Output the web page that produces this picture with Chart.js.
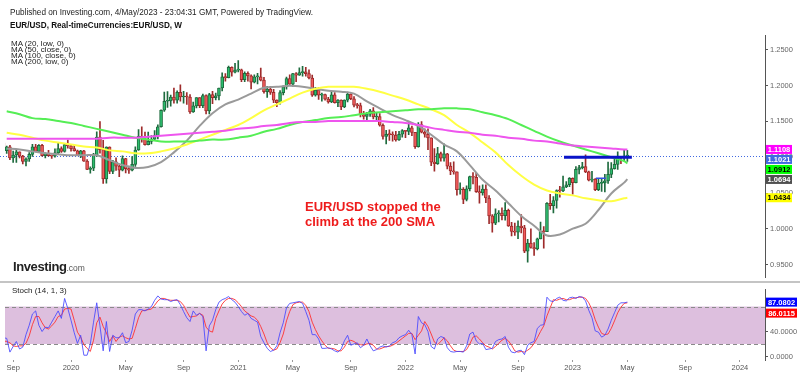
<!DOCTYPE html>
<html>
<head>
<meta charset="utf-8">
<title>EUR/USD weekly</title>
<script src="https://cdn.jsdelivr.net/npm/chart.js@4.4.1/dist/chart.umd.min.js"></script>
<style>
  body { margin: 0; background: #fff; font-family: "Liberation Sans", Arial, sans-serif; }
  #wrap { position: relative; width: 800px; height: 376px; overflow: hidden; }
  #mainBox { position: absolute; left: 0; top: 0; width: 800px; height: 284px; }
  #stochBox { position: absolute; left: 0; top: 283px; width: 800px; height: 93px; }
  .t { position: absolute; white-space: nowrap; line-height: 1; transform-origin: 0 50%; z-index: 2; }
  #pub { left: 10px; top: 7.5px; font-size: 9px; color: #222; transform: scaleX(0.91); }
  #sym { left: 10px; top: 21px; font-size: 9px; font-weight: bold; color: #111; transform: scaleX(0.905); }
  .ma { left: 11px; font-size: 6.8px; color: #222; transform: scaleX(1.18); }
  #note { left: 305px; top: 199px; font-size: 13px; font-weight: bold; color: #ee1c1c; line-height: 15px; }
  #logo { left: 13px; top: 259.5px; font-size: 13px; font-weight: bold; color: #222; letter-spacing: -0.4px; }
  #logo span { font-size: 8.5px; font-weight: normal; color: #555; letter-spacing: 0; }
  #stochTitle { left: 12px; top: 286.7px; font-size: 8px; color: #222; }
</style>
</head>
<body>
<div id="wrap">
  <div id="mainBox"><canvas id="mainChart"></canvas></div>
  <div id="stochBox"><canvas id="stochChart"></canvas></div>
  <div class="t" id="pub">Published on Investing.com, 4/May/2023 - 23:04:31 GMT, Powered by TradingView.</div>
  <div class="t" id="sym">EUR/USD, Real-timeCurrencies:EUR/USD, W</div>
  <div class="t ma" style="top:41px">MA (20, low, 0)</div>
  <div class="t ma" style="top:47px">MA (50, close, 0)</div>
  <div class="t ma" style="top:53px">MA (100, close, 0)</div>
  <div class="t ma" style="top:59px">MA (200, low, 0)</div>
  <div class="t" id="note">EUR/USD stopped the<br>climb at the 200 SMA</div>
  <div class="t" id="logo">Investing<span>.com</span></div>
  <div class="t" id="stochTitle">Stoch (14, 1, 3)</div>
</div>
<script>
// weekly candles, index 0 = week of 12 Aug 2019, last = week of 1 May 2023
var opens = [
  1.1200,1.1090,1.1145,1.0990,1.1030,1.1075,1.1015,1.0940,1.0975,1.1040,
  1.1145,1.1080,1.1165,1.1020,1.1050,1.1020,1.1015,1.1060,1.1120,1.1080,
  1.1175,1.1160,1.1120,1.1090,1.1025,1.1090,1.0945,1.0830,1.0845,1.1025,
  1.1280,1.1105,1.0695,1.1140,1.0800,1.0935,1.0875,1.0820,1.0980,1.0840,
  1.0820,1.0900,1.1100,1.1290,1.1255,1.1175,1.1220,1.1250,1.1300,1.1425,
  1.1655,1.1780,1.1785,1.1840,1.1795,1.1905,1.1840,1.1845,1.1840,1.1630,
  1.1715,1.1830,1.1720,1.1860,1.1645,1.1875,1.1830,1.1855,1.1965,1.2120,
  1.2110,1.2255,1.2185,1.2215,1.2220,1.2080,1.2170,1.2135,1.2045,1.2120,
  1.2120,1.2075,1.1915,1.1950,1.1905,1.1795,1.1760,1.1900,1.1980,1.2095,
  1.2020,1.2165,1.2145,1.2180,1.2190,1.2165,1.2105,1.1865,1.1935,1.1865,
  1.1875,1.1810,1.1770,1.1870,1.1760,1.1795,1.1700,1.1795,1.1880,1.1815,
  1.1725,1.1720,1.1595,1.1570,1.1600,1.1645,1.1560,1.1565,1.1445,1.1290,
  1.1320,1.1315,1.1310,1.1240,1.1320,1.1370,1.1360,1.1410,1.1345,1.1145,
  1.1455,1.1350,1.1320,1.1270,1.0930,1.0910,1.1050,1.0985,1.1045,1.0875,
  1.0810,1.0795,1.0545,1.0550,1.0410,1.0560,1.0730,1.0720,1.0520,1.0500,
  1.0555,1.0430,1.0180,1.0080,1.0210,1.0220,1.0185,1.0260,1.0040,0.9965,
  0.9955,1.0040,1.0015,0.9690,0.9800,0.9740,0.9720,0.9860,0.9965,0.9960,
  1.0355,1.0325,1.0395,1.0535,1.0530,1.0585,1.0615,1.0705,1.0645,1.0830,
  1.0855,1.0870,1.0795,1.0680,1.0695,1.0545,1.0635,1.0640,1.0670,1.0760,
  1.0840,1.0900,1.0990,1.0988,1.1015
];
var highs = [
  1.1230,1.1155,1.1165,1.1085,1.1110,1.1075,1.1025,1.0990,1.1065,1.1180,
  1.1180,1.1175,1.1180,1.1060,1.1097,1.1030,1.1115,1.1200,1.1145,1.1185,
  1.1240,1.1175,1.1175,1.1100,1.1095,1.1095,1.0965,1.0865,1.1055,1.1355,
  1.1495,1.1235,1.1145,1.1145,1.0955,1.0990,1.0890,1.1020,1.0985,1.0875,
  1.1010,1.1145,1.1385,1.1422,1.1350,1.1350,1.1303,1.1370,1.1450,1.1660,
  1.1908,1.1915,1.1865,1.1965,1.1925,1.2011,1.1917,1.1900,1.1872,1.1770,
  1.1830,1.1830,1.1880,1.1870,1.1890,1.1920,1.1895,1.1965,1.2177,1.2165,
  1.2272,1.2260,1.2310,1.2349,1.2230,1.2190,1.2190,1.2150,1.2150,1.2170,
  1.2243,1.2115,1.1990,1.1990,1.1945,1.1800,1.1928,1.1995,1.2117,1.2150,
  1.2170,1.2182,1.2245,1.2266,1.2255,1.2218,1.2145,1.1975,1.1975,1.1895,
  1.1880,1.1835,1.1908,1.1900,1.1805,1.1800,1.1800,1.1909,1.1885,1.1845,
  1.1751,1.1755,1.1640,1.1624,1.1669,1.1692,1.1616,1.1610,1.1465,1.1375,
  1.1383,1.1355,1.1360,1.1360,1.1386,1.1370,1.1482,1.1435,1.1345,1.1483,
  1.1495,1.1395,1.1395,1.1270,1.1121,1.1137,1.1070,1.1185,1.1055,1.0925,
  1.0936,1.0795,1.0642,1.0575,1.0600,1.0736,1.0786,1.0774,1.0601,1.0613,
  1.0615,1.0463,1.0200,1.0279,1.0254,1.0293,1.0368,1.0275,1.0090,1.0079,
  1.0113,1.0198,1.0050,0.9853,0.9999,0.9810,0.9873,1.0093,1.0030,1.0365,
  1.0481,1.0449,1.0545,1.0595,1.0737,1.0660,1.0714,1.0713,1.0868,1.0887,
  1.0929,1.1033,1.0806,1.0804,1.0700,1.0692,1.0700,1.0760,1.0930,1.0926,
  1.0973,1.1075,1.1000,1.1095,1.1095
];
var lows = [
  1.1065,1.1052,1.0964,1.0926,1.0927,1.0990,1.0905,1.0879,1.0940,1.1010,
  1.1075,1.1070,1.1015,1.0990,1.1015,1.0981,1.1000,1.1040,1.1065,1.1070,
  1.1125,1.1085,1.1085,1.1020,1.0992,1.0940,1.0827,1.0778,1.0812,1.1010,
  1.1055,1.0635,1.0636,1.0770,1.0770,1.0815,1.0727,1.0810,1.0782,1.0775,
  1.0810,1.0870,1.1095,1.1210,1.1168,1.1170,1.1185,1.1245,1.1255,1.1420,
  1.1640,1.1695,1.1710,1.1755,1.1753,1.1780,1.1752,1.1737,1.1612,1.1625,
  1.1688,1.1690,1.1690,1.1602,1.1603,1.1745,1.1800,1.1800,1.1925,1.2060,
  1.2105,1.2130,1.2175,1.2190,1.2055,1.2055,1.2060,1.1952,1.2035,1.2023,
  1.2065,1.1893,1.1835,1.1875,1.1762,1.1704,1.1740,1.1870,1.1950,1.2015,
  1.1986,1.2052,1.2140,1.2130,1.2130,1.2093,1.1846,1.1850,1.1807,1.1781,
  1.1795,1.1752,1.1760,1.1755,1.1705,1.1664,1.1690,1.1770,1.1801,1.1701,
  1.1685,1.1563,1.1529,1.1524,1.1570,1.1535,1.1513,1.1433,1.1250,1.1186,
  1.1235,1.1225,1.1222,1.1235,1.1280,1.1272,1.1314,1.1300,1.1121,1.1140,
  1.1340,1.1280,1.1106,1.0880,1.0806,1.0900,1.0945,1.0945,1.0837,1.0757,
  1.0764,1.0471,1.0483,1.0350,1.0390,1.0530,1.0627,1.0507,1.0359,1.0469,
  1.0365,1.0072,0.9952,1.0060,1.0096,1.0123,1.0120,1.0033,0.9900,0.9910,
  0.9864,0.9944,0.9668,0.9536,0.9730,0.9631,0.9705,0.9860,0.9730,0.9960,
  1.0270,1.0222,1.0290,1.0443,1.0520,1.0575,1.0590,1.0483,1.0640,1.0766,
  1.0835,1.0785,1.0669,1.0655,1.0533,1.0532,1.0524,1.0516,1.0635,1.0713,
  1.0832,1.0830,1.0910,1.0944,1.0942
];
var closes = [
  1.1090,1.1145,1.0990,1.1030,1.1075,1.1015,1.0940,1.0975,1.1040,1.1145,
  1.1080,1.1165,1.1020,1.1050,1.1020,1.1015,1.1060,1.1120,1.1080,1.1175,
  1.1160,1.1120,1.1090,1.1025,1.1090,1.0945,1.0830,1.0845,1.1025,1.1280,
  1.1105,1.0695,1.1140,1.0800,1.0935,1.0875,1.0820,1.0980,1.0840,1.0820,
  1.0900,1.1100,1.1290,1.1255,1.1175,1.1220,1.1250,1.1300,1.1425,1.1655,
  1.1780,1.1785,1.1840,1.1795,1.1905,1.1840,1.1845,1.1840,1.1630,1.1715,
  1.1830,1.1720,1.1860,1.1645,1.1875,1.1830,1.1855,1.1965,1.2120,1.2110,
  1.2255,1.2185,1.2215,1.2220,1.2080,1.2170,1.2135,1.2045,1.2120,1.2120,
  1.2075,1.1915,1.1950,1.1905,1.1795,1.1760,1.1900,1.1980,1.2095,1.2020,
  1.2165,1.2145,1.2180,1.2190,1.2165,1.2105,1.1865,1.1935,1.1865,1.1875,
  1.1810,1.1770,1.1870,1.1760,1.1795,1.1700,1.1795,1.1880,1.1815,1.1725,
  1.1720,1.1595,1.1570,1.1600,1.1645,1.1560,1.1565,1.1445,1.1290,1.1320,
  1.1315,1.1310,1.1240,1.1320,1.1370,1.1360,1.1410,1.1345,1.1145,1.1455,
  1.1350,1.1320,1.1270,1.0930,1.0910,1.1050,1.0985,1.1045,1.0875,1.0810,
  1.0795,1.0545,1.0550,1.0410,1.0560,1.0730,1.0720,1.0520,1.0500,1.0555,
  1.0430,1.0180,1.0080,1.0210,1.0220,1.0185,1.0260,1.0040,0.9965,0.9955,
  1.0040,1.0015,0.9690,0.9800,0.9740,0.9720,0.9860,0.9965,0.9960,1.0355,
  1.0325,1.0395,1.0535,1.0530,1.0585,1.0615,1.0705,1.0645,1.0830,1.0855,
  1.0870,1.0795,1.0680,1.0695,1.0545,1.0635,1.0640,1.0670,1.0760,1.0840,
  1.0900,1.0990,1.0988,1.1015,1.1021
];

// moving averages, one point every 4 weeks
var maWeeks = [1,5,9,13,17,21,25,29,33,37,41,45,49,53,57,61,65,69,73,77,81,85,89,93,97,
  101,105,109,113,117,121,125,129,133,137,141,145,149,153,157,161,165,169,173,177,181,185,189,193,194];
var ma20Low = [
  1.1122,1.1108,1.1081,1.1054,1.1040,1.1027,1.1027,1.1027,1.0958,1.0890,
  1.0849,1.0863,1.0931,1.1067,1.1231,1.1436,1.1613,1.1736,1.1804,1.1886,
  1.1968,1.1982,1.1995,1.1982,1.1954,1.1927,1.1913,1.1886,1.1777,1.1681,
  1.1586,1.1518,1.1436,1.1313,1.1177,1.1081,1.0890,1.0685,1.0535,1.0358,
  1.0181,1.0044,0.9908,0.9921,1.0003,1.0072,1.0263,1.0494,1.0645,1.0694
];
var ma50Close = [
  1.1340,1.1313,1.1272,1.1231,1.1204,1.1177,1.1149,1.1136,1.1095,1.1081,
  1.1054,1.1054,1.1081,1.1122,1.1177,1.1245,1.1313,1.1381,1.1449,1.1545,
  1.1654,1.1736,1.1818,1.1900,1.1954,1.1982,1.1982,1.1982,1.1954,1.1913,
  1.1859,1.1804,1.1736,1.1668,1.1586,1.1449,1.1340,1.1204,1.1067,1.0890,
  1.0740,1.0617,1.0535,1.0494,1.0467,1.0426,1.0399,1.0385,1.0426,1.0434
];
var ma100Close = [
  1.1640,1.1600,1.1545,1.1531,1.1504,1.1477,1.1436,1.1395,1.1354,1.1313,
  1.1272,1.1245,1.1218,1.1218,1.1218,1.1231,1.1245,1.1245,1.1272,1.1299,
  1.1354,1.1395,1.1449,1.1490,1.1518,1.1545,1.1559,1.1586,1.1613,1.1627,
  1.1640,1.1654,1.1668,1.1668,1.1681,1.1681,1.1668,1.1627,1.1586,1.1531,
  1.1449,1.1368,1.1286,1.1218,1.1163,1.1108,1.1054,1.0999,1.0945,1.0912
];
var ma200Low = [
  1.1258,1.1258,1.1258,1.1258,1.1258,1.1258,1.1258,1.1258,1.1272,1.1272,
  1.1272,1.1286,1.1299,1.1313,1.1327,1.1340,1.1354,1.1368,1.1395,1.1409,
  1.1436,1.1449,1.1477,1.1490,1.1490,1.1504,1.1504,1.1504,1.1504,1.1504,
  1.1490,1.1477,1.1449,1.1409,1.1381,1.1354,1.1340,1.1313,1.1299,1.1272,
  1.1258,1.1231,1.1218,1.1190,1.1163,1.1149,1.1136,1.1122,1.1108,1.1108
];

// stochastic (14, 1, 3): %K and %D, one value per week
var stochK = [
  30,29,7,16,24,12,15,35,50,68, 73,50,40,47,46,55,64,73,61,93,
  77,58,38,21,34,2,2,20,55,86, 49,9,56,8,34,30,30,38,22,24,
  42,68,75,75,73,76,80,90,97,92, 91,91,88,90,91,83,72,62,56,73,
  66,69,64,9,49,58,75,87,91,93, 96,91,87,80,72,66,69,61,58,55,
  32,22,13,8,10,17,38,54,78,85, 86,87,88,85,72,58,35,35,28,13,
  13,14,12,9,7,12,25,34,18,20, 22,14,18,28,17,9,11,15,17,15,
  17,22,24,30,33,35,42,35,4,64, 54,51,40,16,12,28,32,30,14,8,
  7,8,8,7,17,36,39,25,20,21, 11,12,13,24,27,28,32,15,7,6,
  9,10,3,18,22,24,45,50,51,95, 89,88,93,95,90,89,94,95,93,96,
  95,89,74,62,41,39,31,34,44,58, 70,82,86,86,87.0802
];
var stochD = [
  25,24,22,17,16,17,17,21,33,51, 64,64,54,46,44,49,55,64,66,76,
  77,76,58,39,31,19,13,8,26,54, 63,48,38,24,33,24,31,33,30,28,
  29,45,62,73,74,75,76,82,89,93, 93,91,90,90,90,88,82,72,63,64,
  65,69,66,47,41,39,61,73,84,90, 93,93,91,86,80,73,69,65,63,58,
  48,36,22,14,10,12,22,36,57,72, 83,86,87,87,82,72,55,43,33,25,
  18,13,13,12,9,9,15,24,26,24, 20,19,18,20,21,18,12,12,14,16,
  16,18,21,25,29,33,37,37,27,34, 41,56,48,36,23,19,24,30,25,17,
  10,8,8,8,11,20,31,33,28,22, 17,15,12,16,21,26,29,25,18,9,
  7,8,7,10,14,21,30,40,49,65, 78,91,90,92,93,91,91,93,94,95,
  95,93,86,75,59,47,37,35,36,45, 57,70,79,85,86.0115
];
var stochBands = [20, 80];
var stochTicks = [0, 40];

// hand-drawn horizontal lines: start week, end week, price
var drawnFrom = [174.3, 184.2];
var drawnTo = [195.4, 187.3];
var drawnLevel = [1.1000, 1.0705];

// axis ticks
var priceTicks = [0.95, 1.00, 1.05, 1.10, 1.15, 1.20, 1.25];
var weekTicks = [3, 21, 38, 56, 73, 90, 108, 125, 142, 160, 177, 194, 212, 229];
var weekTickLabels = ["Sep", "2020", "May", "Sep", "2021", "May", "Sep", "2022", "May", "Sep", "2023", "May", "Sep", "2024"];

var xMin = 0.47, xMax = 236.8;
var priceMin = 0.93213, priceMax = 1.27046;
var stochMin = -5.65, stochMax = 107.3;

var upFill = "#2dbd6e", upEdge = "#1e6b3e";
var downFill = "#f25c5c", downEdge = "#9e2b2b";
var FONT = '"Liberation Sans", Arial, sans-serif';

Chart.defaults.font.family = FONT;

function isUp(i) { return closes[i] >= opens[i]; }

function maPoints(arr) {
    return maWeeks.map(function (w, i) { return { x: w, y: arr[i] }; });
}

// Tag boxes at the right edge, pushed down so they don't overlap
function drawTags(ctx, scale, left, tags, width, gap) {
    tags.sort(function (a, b) { return b.v - a.v; });
    var prev = -Infinity;
    ctx.font = "bold 7.5px " + FONT;
    ctx.textAlign = "center";
    ctx.textBaseline = "middle";
    tags.forEach(function (t) {
        var y = Math.max(scale.getPixelForValue(t.v), prev + gap);
        prev = y;
        ctx.fillStyle = t.bg;
        ctx.fillRect(left + 1, y - 4.5, width, 9);
        ctx.fillStyle = t.fg;
        ctx.fillText(t.v.toFixed(4), left + 1 + width / 2, y + 0.5);
    });
}

var mainDecor = {
    id: "mainDecor",
    beforeDatasetsDraw: function (chart) {
        var ctx = chart.ctx, area = chart.chartArea;
        var y = Math.round(chart.scales.y.getPixelForValue(closes[closes.length - 1])) + 0.5;
        ctx.save();
        ctx.strokeStyle = "#4169e1";
        ctx.lineWidth = 1;
        ctx.setLineDash([1, 2]);
        ctx.beginPath();
        ctx.moveTo(0, y);
        ctx.lineTo(area.right, y);
        ctx.stroke();
        ctx.restore();
    },
    afterDraw: function (chart) {
        var ctx = chart.ctx, area = chart.chartArea;
        ctx.save();
        ctx.fillStyle = "#c4c4c4";
        ctx.fillRect(0, 281, 800, 2);
        drawTags(ctx, chart.scales.y, area.right, [
            { v: ma200Low[ma200Low.length - 1], bg: "#ff00ff", fg: "#fff" },
            { v: closes[closes.length - 1], bg: "#4169e1", fg: "#fff" },
            { v: ma100Close[ma100Close.length - 1], bg: "#00ff00", fg: "#000" },
            { v: ma20Low[ma20Low.length - 1], bg: "#505050", fg: "#fff" },
            { v: ma50Close[ma50Close.length - 1], bg: "#ffff00", fg: "#000" }
        ], 26, 10);
        ctx.restore();
    }
};

var stochDecor = {
    id: "stochDecor",
    beforeDatasetsDraw: function (chart) {
        var ctx = chart.ctx, a = chart.chartArea, y = chart.scales.y;
        var top = y.getPixelForValue(stochBands[1]), bot = y.getPixelForValue(stochBands[0]);
        ctx.save();
        ctx.fillStyle = "rgb(221,191,222)";
        ctx.fillRect(a.left, top, a.right - a.left, bot - top);
        ctx.strokeStyle = "#8a8a8a";
        ctx.lineWidth = 1;
        ctx.setLineDash([4, 3]);
        [top, bot].forEach(function (py) {
            ctx.beginPath();
            ctx.moveTo(a.left, Math.round(py) + 0.5);
            ctx.lineTo(a.right, Math.round(py) + 0.5);
            ctx.stroke();
        });
        ctx.restore();
    },
    afterDraw: function (chart) {
        var ctx = chart.ctx;
        ctx.save();
        drawTags(ctx, chart.scales.y, chart.chartArea.right, [
            { v: stochK[stochK.length - 1], bg: "#0000ff", fg: "#fff" },
            { v: stochD[stochD.length - 1], bg: "#ff0000", fg: "#fff" }
        ], 31, 11);
        ctx.restore();
    }
};

// Build datasets
var wickData = lows.map(function (l, i) { return { x: i, y: [l, highs[i]] }; });
var bodyData = opens.map(function (o, i) { return { x: i, y: [o, closes[i]] }; });

var datasets = [
    {
        type: "bar", data: wickData, order: 6, grouped: false, barThickness: 1,
        backgroundColor: function (c) { return isUp(c.dataIndex) ? upEdge : downEdge; }
    },
    {
        type: "bar", data: bodyData, order: 5, grouped: false, barThickness: 3, minBarLength: 1,
        borderWidth: 1, borderSkipped: false,
        backgroundColor: function (c) { return isUp(c.dataIndex) ? upFill : downFill; },
        borderColor: function (c) { return isUp(c.dataIndex) ? upEdge : downEdge; }
    },
    { type: "line", data: maPoints(ma200Low), borderColor: "#ee55ee", order: 2 },
    { type: "line", data: maPoints(ma100Close), borderColor: "#55ee55", order: 2 },
    { type: "line", data: maPoints(ma50Close), borderColor: "#ffff44", order: 2 },
    { type: "line", data: maPoints(ma20Low), borderColor: "#9a9a9a", order: 2 }
];
datasets.forEach(function (d) {
    if (d.type === "line") {
        d.borderWidth = 2;
        d.pointRadius = 0;
        d.tension = 0.35;
    }
});
drawnLevel.forEach(function (lv, i) {
    datasets.push({
        type: "line", order: 0, pointRadius: 0,
        borderWidth: i === 0 ? 3 : 1.5,
        borderColor: i === 0 ? "#0a14c8" : "#3050e0",
        data: [{ x: drawnFrom[i], y: lv }, { x: drawnTo[i], y: lv }]
    });
});

new Chart(document.getElementById("mainChart"), {
    type: "bar",
    data: { datasets: datasets },
    options: {
        responsive: true,
        maintainAspectRatio: false,
        animation: false,
        layout: { padding: { left: 5, top: 35, bottom: 1, right: 0 } },
        plugins: { legend: { display: false }, tooltip: { enabled: false } },
        scales: {
            x: { type: "linear", min: xMin, max: xMax, offset: false, display: false },
            y: {
                position: "right",
                min: priceMin, max: priceMax,
                afterBuildTicks: function (s) { s.ticks = priceTicks.map(function (v) { return { value: v }; }); },
                afterFit: function (s) { s.width = 35; },
                grid: { drawOnChartArea: false, drawTicks: true, tickLength: 3, color: "#555" },
                border: { display: true, color: "#555", width: 1 },
                ticks: {
                    color: "#666", padding: 2, font: { size: 7.5 },
                    callback: function (v) { return Number(v).toFixed(4); }
                }
            }
        }
    },
    plugins: [mainDecor]
});

var weekIdx = stochK.map(function (v, i) { return i; });

new Chart(document.getElementById("stochChart"), {
    type: "line",
    data: {
        datasets: [
            { data: weekIdx.map(function (w) { return { x: w, y: stochD[w] }; }), borderColor: "rgba(255,50,50,0.9)", borderWidth: 1, pointRadius: 0, order: 2 },
            { data: weekIdx.map(function (w) { return { x: w, y: stochK[w] }; }), borderColor: "rgba(70,70,255,0.85)", borderWidth: 1, pointRadius: 0, order: 1 }
        ]
    },
    options: {
        responsive: true,
        maintainAspectRatio: false,
        animation: false,
        layout: { padding: { left: 5, top: 1, bottom: 0, right: 0 } },
        plugins: { legend: { display: false }, tooltip: { enabled: false } },
        scales: {
            x: {
                type: "linear", min: xMin, max: xMax, offset: false,
                afterBuildTicks: function (s) { s.ticks = weekTicks.map(function (v) { return { value: v }; }); },
                afterFit: function (s) { s.height = 16; },
                grid: { drawOnChartArea: false, drawTicks: true, tickLength: 2, color: "#999" },
                border: { display: false },
                ticks: {
                    color: "#555", padding: 1, font: { size: 7.5 }, maxRotation: 0, autoSkip: false,
                    callback: function (v, i) { return weekTickLabels[i]; }
                }
            },
            y: {
                position: "right",
                min: stochMin, max: stochMax,
                afterBuildTicks: function (s) { s.ticks = stochTicks.map(function (v) { return { value: v }; }); },
                afterFit: function (s) { s.width = 35; },
                grid: { drawOnChartArea: false, drawTicks: true, tickLength: 3, color: "#555" },
                border: { display: true, color: "#555", width: 1 },
                ticks: {
                    color: "#666", padding: 2, font: { size: 7.5 },
                    callback: function (v) { return Number(v).toFixed(4); }
                }
            }
        }
    },
    plugins: [stochDecor]
});
</script>
</body>
</html>
